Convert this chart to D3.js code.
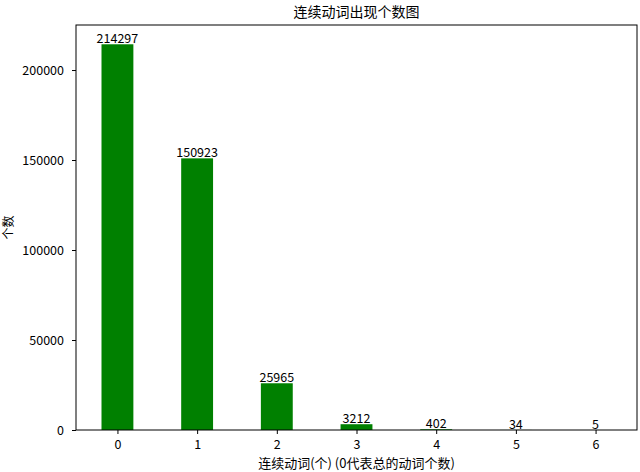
<!DOCTYPE html>
<html>
<head>
<meta charset="utf-8">
<script src="https://cdn.jsdelivr.net/npm/d3@7"></script>
<style>
  body { margin: 0; background: #fff; }
  svg text { font-family: "Noto Sans CJK SC", "Noto Sans", sans-serif; fill: #000; }
</style>
</head>
<body>
<svg id="chart"></svg>
<script>
var categories = [0, 1, 2, 3, 4, 5, 6];
var counts = [214297, 150923, 25965, 3212, 402, 34, 5];
var yTicks = [0, 50000, 100000, 150000, 200000];

var titleText = "连续动词出现个数图";
var xLabelText = "连续动词(个) (0代表总的动词个数)";
var yLabelText = "个数";

var width = 640;
var height = 472;
var margin = {top: 25, right: 3, bottom: 42, left: 76};
var barW = 0.4;

var svg = d3.select("#chart")
  .attr("width", width)
  .attr("height", height);

var x = d3.scaleLinear()
  .domain([-barW/2 - 0.05*(6+barW), 6 + barW/2 + 0.05*(6+barW)])
  .range([margin.left, width - margin.right]);

var y = d3.scaleLinear()
  .domain([0, d3.max(counts) * 1.05])
  .range([height - margin.bottom, margin.top]);

// bars
svg.selectAll("rect.bar")
  .data(counts)
  .enter()
  .append("rect")
  .attr("class", "bar")
  .attr("x", function(d, i) { return x(categories[i] - barW/2); })
  .attr("y", function(d) { return y(d); })
  .attr("width", function() { return x(barW) - x(0); })
  .attr("height", function(d) { return y(0) - y(d); })
  .attr("fill", "#008000");

// value labels
svg.selectAll("text.val")
  .data(counts)
  .enter()
  .append("text")
  .attr("class", "val")
  .attr("x", function(d, i) { return x(categories[i]); })
  .attr("y", function(d) { return y(d) - 1; })
  .attr("text-anchor", "middle")
  .attr("font-size", 12.5)
  .text(function(d) { return d; });

// axes
var xAxis = d3.axisBottom(x).tickValues(categories).tickSize(4).tickPadding(6).tickFormat(d3.format("d"));
var yAxis = d3.axisLeft(y).tickValues(yTicks).tickSize(4).tickPadding(8).tickFormat(d3.format("d"));

var gx = svg.append("g")
  .attr("transform", "translate(0," + y(0) + ")")
  .call(xAxis);
var gy = svg.append("g")
  .attr("transform", "translate(" + margin.left + ",0)")
  .call(yAxis);

[gx, gy].forEach(function(g) {
  g.select(".domain").remove();
  g.selectAll("text").attr("font-size", 12.5).attr("font-family", "Noto Sans CJK SC, Noto Sans, sans-serif");
  g.selectAll("line").attr("stroke", "#000");
});

// frame
svg.append("rect")
  .attr("x", x.range()[0])
  .attr("y", y.range()[1])
  .attr("width", x.range()[1] - x.range()[0])
  .attr("height", y.range()[0] - y.range()[1])
  .attr("fill", "none")
  .attr("stroke", "#000")
  .attr("stroke-width", 1);

// title and axis labels
svg.append("text")
  .attr("x", (x.range()[0] + x.range()[1]) / 2)
  .attr("y", 17)
  .attr("text-anchor", "middle")
  .attr("font-size", 14)
  .text(titleText);

svg.append("text")
  .attr("x", (x.range()[0] + x.range()[1]) / 2)
  .attr("y", 468)
  .attr("text-anchor", "middle")
  .attr("font-size", 13)
  .text(xLabelText);

svg.append("text")
  .attr("transform", "translate(13," + ((y.range()[0] + y.range()[1]) / 2) + ") rotate(-90)")
  .attr("text-anchor", "middle")
  .attr("font-size", 12)
  .text(yLabelText);
</script>
</body>
</html>
